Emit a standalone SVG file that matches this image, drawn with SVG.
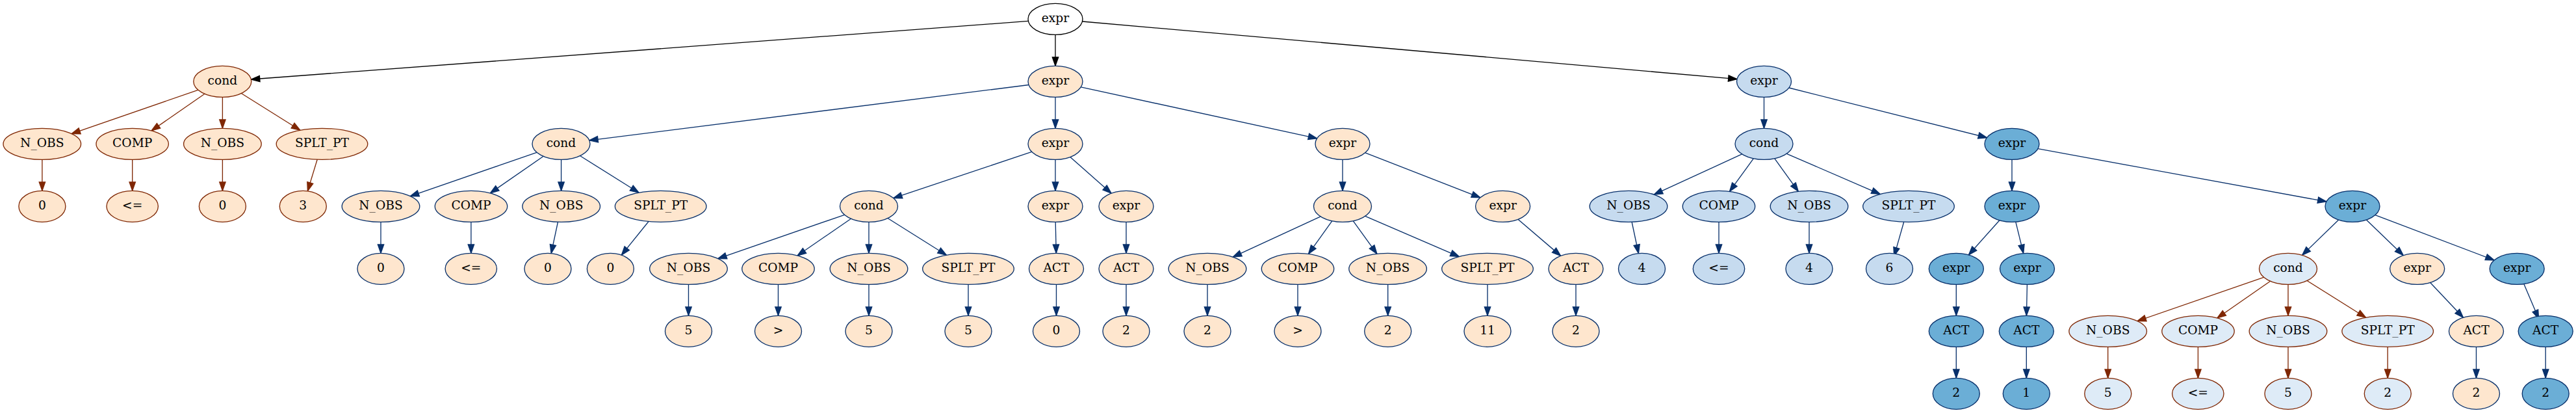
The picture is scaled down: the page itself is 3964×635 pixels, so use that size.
<svg xmlns="http://www.w3.org/2000/svg" width="3964" height="635" viewBox="0 0 3964 635">
<style>
text{font-family:"DejaVu Serif","Liberation Serif",serif;font-size:18.67px;text-anchor:middle;fill:#000}
ellipse{stroke-width:1.33}
.w ellipse{fill:#ffffff;stroke:#000000}
.ob ellipse{fill:#fee6ce;stroke:#7f2704}
.on ellipse{fill:#fee6ce;stroke:#08306b}
.lb ellipse{fill:#c6dbef;stroke:#08306b}
.db ellipse{fill:#6baed6;stroke:#08306b}
.vb ellipse{fill:#deebf7;stroke:#7f2704}
#edges line{stroke-width:1.33;fill:none}
.ek{stroke:#000000;marker-end:url(#ak)}
.eb{stroke:#7f2704;marker-end:url(#ab)}
.en{stroke:#08306b;marker-end:url(#an)}
</style>
<defs>
<marker id="ak" markerUnits="userSpaceOnUse" markerWidth="15" markerHeight="11" refX="13.33" refY="4.67" orient="auto" overflow="visible"><path d="M0,0 L13.33,4.67 L0,9.33 Z" fill="#000000" stroke="#000000" stroke-width="1.33"/></marker>
<marker id="ab" markerUnits="userSpaceOnUse" markerWidth="15" markerHeight="11" refX="13.33" refY="4.67" orient="auto" overflow="visible"><path d="M0,0 L13.33,4.67 L0,9.33 Z" fill="#7f2704" stroke="#7f2704" stroke-width="1.33"/></marker>
<marker id="an" markerUnits="userSpaceOnUse" markerWidth="15" markerHeight="11" refX="13.33" refY="4.67" orient="auto" overflow="visible"><path d="M0,0 L13.33,4.67 L0,9.33 Z" fill="#08306b" stroke="#08306b" stroke-width="1.33"/></marker>
</defs>
<rect width="3964" height="635" fill="#ffffff"/>
<g id="edges">
<line class="ek" x1="1582.4" y1="32.45" x2="386.4" y2="122.03"/>
<line class="ek" x1="1624" y1="53.33" x2="1624" y2="101.33"/>
<line class="ek" x1="1665.5" y1="32.98" x2="2673.0" y2="121.68"/>
<line class="eb" x1="304.8" y1="138.29" x2="110.1" y2="205.66"/>
<line class="eb" x1="315.0" y1="144.27" x2="233.1" y2="200.95"/>
<line class="eb" x1="342.4" y1="149.33" x2="342.4" y2="197.33"/>
<line class="eb" x1="371.3" y1="143.52" x2="461.9" y2="200.26"/>
<line class="eb" x1="64.9" y1="245.33" x2="64.9" y2="293.33"/>
<line class="eb" x1="203.7" y1="245.33" x2="203.7" y2="293.33"/>
<line class="eb" x1="342.4" y1="245.33" x2="342.4" y2="293.33"/>
<line class="eb" x1="488.2" y1="245.2" x2="473.4" y2="293.81"/>
<line class="en" x1="1583.0" y1="130.51" x2="906.8" y2="215.86"/>
<line class="en" x1="1624" y1="149.33" x2="1624" y2="197.33"/>
<line class="en" x1="1663.3" y1="133.86" x2="2026.7" y2="212.8"/>
<line class="en" x1="826.05" y1="234.29" x2="631.3" y2="301.66"/>
<line class="en" x1="836.2" y1="240.27" x2="754.4" y2="296.95"/>
<line class="en" x1="863.6" y1="245.33" x2="863.6" y2="293.33"/>
<line class="en" x1="892.5" y1="239.52" x2="983.1" y2="296.26"/>
<line class="en" x1="586" y1="341.33" x2="586" y2="389.33"/>
<line class="en" x1="724.9" y1="341.33" x2="724.9" y2="389.33"/>
<line class="en" x1="858.5" y1="341.24" x2="848.2" y2="389.58"/>
<line class="en" x1="998.1" y1="340.47" x2="956.4" y2="392.18"/>
<line class="en" x1="1587.8" y1="233.45" x2="1374.8" y2="304.68"/>
<line class="en" x1="1624" y1="245.33" x2="1624" y2="293.33"/>
<line class="en" x1="1646.9" y1="241.46" x2="1710.1" y2="297.2"/>
<line class="en" x1="1299.55" y1="330.29" x2="1104.8" y2="397.66"/>
<line class="en" x1="1309.55" y1="336.22" x2="1227.06" y2="392.99"/>
<line class="en" x1="1337" y1="341.33" x2="1337" y2="389.33"/>
<line class="en" x1="1366.0" y1="335.52" x2="1456.4" y2="392.26"/>
<line class="en" x1="1059.5" y1="437.33" x2="1059.5" y2="485.33"/>
<line class="en" x1="1197.5" y1="437.33" x2="1197.5" y2="485.33"/>
<line class="en" x1="1337" y1="437.33" x2="1337" y2="485.33"/>
<line class="en" x1="1490" y1="437.33" x2="1490" y2="485.33"/>
<line class="en" x1="1624.2" y1="341.33" x2="1625.3" y2="389.33"/>
<line class="en" x1="1625.5" y1="437.33" x2="1625.5" y2="485.33"/>
<line class="en" x1="1733" y1="341.33" x2="1733" y2="389.33"/>
<line class="en" x1="1733" y1="437.33" x2="1733" y2="485.33"/>
<line class="en" x1="2066" y1="245.33" x2="2066" y2="293.33"/>
<line class="en" x1="2100.7" y1="234.84" x2="2277.9" y2="303.82"/>
<line class="en" x1="2032.2" y1="332.93" x2="1897.2" y2="395.22"/>
<line class="en" x1="2049.9" y1="339.71" x2="2013.5" y2="390.4"/>
<line class="en" x1="2082.2" y1="339.68" x2="2118.9" y2="390.29"/>
<line class="en" x1="2100.8" y1="332.3" x2="2245.3" y2="394.53"/>
<line class="en" x1="1858" y1="437.33" x2="1858" y2="485.33"/>
<line class="en" x1="1997" y1="437.33" x2="1997" y2="485.33"/>
<line class="en" x1="2135.7" y1="437.33" x2="2135.7" y2="485.33"/>
<line class="en" x1="2289" y1="437.33" x2="2289" y2="485.33"/>
<line class="en" x1="2336.0" y1="337.28" x2="2401.65" y2="393.38"/>
<line class="en" x1="2425" y1="437.33" x2="2425" y2="485.33"/>
<line class="en" x1="2714.5" y1="149.33" x2="2714.5" y2="197.33"/>
<line class="en" x1="2752.9" y1="135.0" x2="3057.6" y2="211.66"/>
<line class="en" x1="2680.7" y1="236.93" x2="2545.2" y2="299.22"/>
<line class="en" x1="2698.4" y1="243.71" x2="2661.5" y2="294.4"/>
<line class="en" x1="2730.7" y1="243.68" x2="2767.3" y2="294.29"/>
<line class="en" x1="2749.3" y1="236.3" x2="2893.3" y2="298.53"/>
<line class="en" x1="2511.1" y1="341.24" x2="2521.4" y2="389.57"/>
<line class="en" x1="2645" y1="341.33" x2="2645" y2="389.33"/>
<line class="en" x1="2784" y1="341.33" x2="2784" y2="389.33"/>
<line class="en" x1="2929.7" y1="341.2" x2="2914.7" y2="393.81"/>
<line class="en" x1="3096" y1="245.33" x2="3096" y2="293.33"/>
<line class="en" x1="3136.0" y1="228.66" x2="3580.0" y2="310.0"/>
<line class="en" x1="3076.9" y1="338.71" x2="3029.4" y2="391.95"/>
<line class="en" x1="3101.8" y1="341.1" x2="3113.7" y2="389.56"/>
<line class="en" x1="3010.3" y1="437.33" x2="3010.3" y2="485.33"/>
<line class="en" x1="3010.3" y1="533.33" x2="3010.3" y2="581.33"/>
<line class="en" x1="3119.4" y1="437.33" x2="3118.4" y2="485.33"/>
<line class="en" x1="3118.3" y1="533.33" x2="3118.3" y2="581.33"/>
<line class="en" x1="3598.7" y1="338.01" x2="3542.6" y2="392.36"/>
<line class="en" x1="3641.4" y1="337.97" x2="3698.3" y2="392.69"/>
<line class="en" x1="3655.0" y1="330.6" x2="3838.2" y2="400.06"/>
<line class="en" x1="3739.7" y1="434.44" x2="3790.5" y2="488.22"/>
<line class="en" x1="3810.5" y1="533.33" x2="3810.5" y2="581.33"/>
<line class="en" x1="3883.8" y1="436.55" x2="3906.6" y2="490.11"/>
<line class="en" x1="3917.2" y1="533.33" x2="3917.2" y2="581.33"/>
<line class="eb" x1="3483.55" y1="426.29" x2="3289.0" y2="493.66"/>
<line class="eb" x1="3493.66" y1="432.27" x2="3411.92" y2="488.95"/>
<line class="eb" x1="3521" y1="437.33" x2="3521" y2="485.33"/>
<line class="eb" x1="3550.03" y1="431.52" x2="3640.57" y2="488.26"/>
<line class="eb" x1="3243.7" y1="533.33" x2="3243.7" y2="581.33"/>
<line class="eb" x1="3382.4" y1="533.33" x2="3382.4" y2="581.33"/>
<line class="eb" x1="3521" y1="533.33" x2="3521" y2="581.33"/>
<line class="eb" x1="3674.2" y1="533.33" x2="3674.2" y2="581.33"/>
</g>
<g id="n0" class="w"><ellipse cx="1624" cy="29.33" rx="42" ry="24"/><text x="1624" y="34.33">expr</text></g>
<g id="a1" class="ob"><ellipse cx="342.3" cy="125.33" rx="44.5" ry="24"/><text x="342.3" y="130.33">cond</text></g>
<g id="a2" class="ob"><ellipse cx="64.8" cy="221.33" rx="59.8" ry="24"/><text x="64.8" y="226.33">N_OBS</text></g>
<g id="a3" class="ob"><ellipse cx="203.7" cy="221.33" rx="55.7" ry="24"/><text x="203.7" y="226.33">COMP</text></g>
<g id="a4" class="ob"><ellipse cx="342.4" cy="221.33" rx="59.8" ry="24"/><text x="342.4" y="226.33">N_OBS</text></g>
<g id="a5" class="ob"><ellipse cx="495.5" cy="221.33" rx="70.3" ry="24"/><text x="495.5" y="226.33">SPLT_PT</text></g>
<g id="a6" class="ob"><ellipse cx="64.9" cy="317.33" rx="36" ry="24"/><text x="64.9" y="322.33">0</text></g>
<g id="a7" class="ob"><ellipse cx="203.7" cy="317.33" rx="39.7" ry="24"/><text x="203.7" y="322.33">&lt;=</text></g>
<g id="a8" class="ob"><ellipse cx="342.4" cy="317.33" rx="36" ry="24"/><text x="342.4" y="322.33">0</text></g>
<g id="a9" class="ob"><ellipse cx="466.3" cy="317.33" rx="36" ry="24"/><text x="466.3" y="322.33">3</text></g>
<g id="b1" class="on"><ellipse cx="1624" cy="125.33" rx="42" ry="24"/><text x="1624" y="130.33">expr</text></g>
<g id="b2" class="on"><ellipse cx="863.5" cy="221.33" rx="44.5" ry="24"/><text x="863.5" y="226.33">cond</text></g>
<g id="b3" class="on"><ellipse cx="1624" cy="221.33" rx="42" ry="24"/><text x="1624" y="226.33">expr</text></g>
<g id="b4" class="on"><ellipse cx="2066" cy="221.33" rx="42" ry="24"/><text x="2066" y="226.33">expr</text></g>
<g id="b5" class="on"><ellipse cx="586" cy="317.33" rx="59.8" ry="24"/><text x="586" y="322.33">N_OBS</text></g>
<g id="b6" class="on"><ellipse cx="725" cy="317.33" rx="55.7" ry="24"/><text x="725" y="322.33">COMP</text></g>
<g id="b7" class="on"><ellipse cx="863.7" cy="317.33" rx="59.8" ry="24"/><text x="863.7" y="322.33">N_OBS</text></g>
<g id="b8" class="on"><ellipse cx="1016.7" cy="317.33" rx="70.3" ry="24"/><text x="1016.7" y="322.33">SPLT_PT</text></g>
<g id="b9" class="on"><ellipse cx="586" cy="413.33" rx="36" ry="24"/><text x="586" y="418.33">0</text></g>
<g id="b10" class="on"><ellipse cx="724.8" cy="413.33" rx="39.7" ry="24"/><text x="724.8" y="418.33">&lt;=</text></g>
<g id="b11" class="on"><ellipse cx="843" cy="413.33" rx="36" ry="24"/><text x="843" y="418.33">0</text></g>
<g id="b12" class="on"><ellipse cx="939.4" cy="413.33" rx="36" ry="24"/><text x="939.4" y="418.33">0</text></g>
<g id="b13" class="on"><ellipse cx="1337" cy="317.33" rx="44.5" ry="24"/><text x="1337" y="322.33">cond</text></g>
<g id="b14" class="on"><ellipse cx="1624" cy="317.33" rx="42" ry="24"/><text x="1624" y="322.33">expr</text></g>
<g id="b15" class="on"><ellipse cx="1733" cy="317.33" rx="42" ry="24"/><text x="1733" y="322.33">expr</text></g>
<g id="b16" class="on"><ellipse cx="1059.5" cy="413.33" rx="59.8" ry="24"/><text x="1059.5" y="418.33">N_OBS</text></g>
<g id="b17" class="on"><ellipse cx="1197.5" cy="413.33" rx="55.7" ry="24"/><text x="1197.5" y="418.33">COMP</text></g>
<g id="b18" class="on"><ellipse cx="1337" cy="413.33" rx="59.8" ry="24"/><text x="1337" y="418.33">N_OBS</text></g>
<g id="b19" class="on"><ellipse cx="1490" cy="413.33" rx="70.3" ry="24"/><text x="1490" y="418.33">SPLT_PT</text></g>
<g id="b20" class="on"><ellipse cx="1059.5" cy="509.33" rx="36" ry="24"/><text x="1059.5" y="514.33">5</text></g>
<g id="b21" class="on"><ellipse cx="1197.5" cy="509.33" rx="36" ry="24"/><text x="1197.5" y="514.33">&gt;</text></g>
<g id="b22" class="on"><ellipse cx="1337" cy="509.33" rx="36" ry="24"/><text x="1337" y="514.33">5</text></g>
<g id="b23" class="on"><ellipse cx="1490" cy="509.33" rx="36" ry="24"/><text x="1490" y="514.33">5</text></g>
<g id="b24" class="on"><ellipse cx="1625.5" cy="413.33" rx="42" ry="24"/><text x="1625.5" y="418.33">ACT</text></g>
<g id="b25" class="on"><ellipse cx="1625.5" cy="509.33" rx="36" ry="24"/><text x="1625.5" y="514.33">0</text></g>
<g id="b26" class="on"><ellipse cx="1733" cy="413.33" rx="42" ry="24"/><text x="1733" y="418.33">ACT</text></g>
<g id="b27" class="on"><ellipse cx="1733" cy="509.33" rx="36" ry="24"/><text x="1733" y="514.33">2</text></g>
<g id="b28" class="on"><ellipse cx="2066" cy="317.33" rx="44.5" ry="24"/><text x="2066" y="322.33">cond</text></g>
<g id="b29" class="on"><ellipse cx="2312.6" cy="317.33" rx="42" ry="24"/><text x="2312.6" y="322.33">expr</text></g>
<g id="b30" class="on"><ellipse cx="1858" cy="413.33" rx="59.8" ry="24"/><text x="1858" y="418.33">N_OBS</text></g>
<g id="b31" class="on"><ellipse cx="1997" cy="413.33" rx="55.7" ry="24"/><text x="1997" y="418.33">COMP</text></g>
<g id="b32" class="on"><ellipse cx="2135.6" cy="413.33" rx="59.8" ry="24"/><text x="2135.6" y="418.33">N_OBS</text></g>
<g id="b33" class="on"><ellipse cx="2289" cy="413.33" rx="70.3" ry="24"/><text x="2289" y="418.33">SPLT_PT</text></g>
<g id="b34" class="on"><ellipse cx="1858" cy="509.33" rx="36" ry="24"/><text x="1858" y="514.33">2</text></g>
<g id="b35" class="on"><ellipse cx="1997" cy="509.33" rx="36" ry="24"/><text x="1997" y="514.33">&gt;</text></g>
<g id="b36" class="on"><ellipse cx="2135.7" cy="509.33" rx="36" ry="24"/><text x="2135.7" y="514.33">2</text></g>
<g id="b37" class="on"><ellipse cx="2289" cy="509.33" rx="36" ry="24"/><text x="2289" y="514.33">11</text></g>
<g id="b38" class="on"><ellipse cx="2425" cy="413.33" rx="42" ry="24"/><text x="2425" y="418.33">ACT</text></g>
<g id="b39" class="on"><ellipse cx="2425" cy="509.33" rx="36" ry="24"/><text x="2425" y="514.33">2</text></g>
<g id="c1" class="lb"><ellipse cx="2714.5" cy="125.33" rx="42" ry="24"/><text x="2714.5" y="130.33">expr</text></g>
<g id="c2" class="lb"><ellipse cx="2714.5" cy="221.33" rx="44.5" ry="24"/><text x="2714.5" y="226.33">cond</text></g>
<g id="c3" class="db"><ellipse cx="3096" cy="221.33" rx="42" ry="24"/><text x="3096" y="226.33">expr</text></g>
<g id="c4" class="lb"><ellipse cx="2506" cy="317.33" rx="59.8" ry="24"/><text x="2506" y="322.33">N_OBS</text></g>
<g id="c5" class="lb"><ellipse cx="2645" cy="317.33" rx="55.7" ry="24"/><text x="2645" y="322.33">COMP</text></g>
<g id="c6" class="lb"><ellipse cx="2784" cy="317.33" rx="59.8" ry="24"/><text x="2784" y="322.33">N_OBS</text></g>
<g id="c7" class="lb"><ellipse cx="2937" cy="317.33" rx="70.3" ry="24"/><text x="2937" y="322.33">SPLT_PT</text></g>
<g id="c8" class="lb"><ellipse cx="2526.5" cy="413.33" rx="36" ry="24"/><text x="2526.5" y="418.33">4</text></g>
<g id="c9" class="lb"><ellipse cx="2645" cy="413.33" rx="39.7" ry="24"/><text x="2645" y="418.33">&lt;=</text></g>
<g id="c10" class="lb"><ellipse cx="2784" cy="413.33" rx="36" ry="24"/><text x="2784" y="418.33">4</text></g>
<g id="c11" class="lb"><ellipse cx="2907.5" cy="413.33" rx="36" ry="24"/><text x="2907.5" y="418.33">6</text></g>
<g id="c12" class="db"><ellipse cx="3096" cy="317.33" rx="42" ry="24"/><text x="3096" y="322.33">expr</text></g>
<g id="c13" class="db"><ellipse cx="3620" cy="317.33" rx="42" ry="24"/><text x="3620" y="322.33">expr</text></g>
<g id="c14" class="db"><ellipse cx="3010.3" cy="413.33" rx="42" ry="24"/><text x="3010.3" y="418.33">expr</text></g>
<g id="c15" class="db"><ellipse cx="3119.5" cy="413.33" rx="42" ry="24"/><text x="3119.5" y="418.33">expr</text></g>
<g id="c16" class="db"><ellipse cx="3010.3" cy="509.33" rx="42" ry="24"/><text x="3010.3" y="514.33">ACT</text></g>
<g id="c17" class="db"><ellipse cx="3118.3" cy="509.33" rx="42" ry="24"/><text x="3118.3" y="514.33">ACT</text></g>
<g id="c18" class="db"><ellipse cx="3010.3" cy="605.33" rx="36" ry="24"/><text x="3010.3" y="610.33">2</text></g>
<g id="c19" class="db"><ellipse cx="3118.3" cy="605.33" rx="36" ry="24"/><text x="3118.3" y="610.33">1</text></g>
<g id="c20" class="vb"><ellipse cx="3521" cy="413.33" rx="44.5" ry="24"/><text x="3521" y="418.33">cond</text></g>
<g id="c21" class="on"><ellipse cx="3719.7" cy="413.33" rx="42" ry="24"/><text x="3719.7" y="418.33">expr</text></g>
<g id="c22" class="db"><ellipse cx="3873.2" cy="413.33" rx="42" ry="24"/><text x="3873.2" y="418.33">expr</text></g>
<g id="c23" class="vb"><ellipse cx="3243.7" cy="509.33" rx="59.8" ry="24"/><text x="3243.7" y="514.33">N_OBS</text></g>
<g id="c24" class="vb"><ellipse cx="3382.5" cy="509.33" rx="55.7" ry="24"/><text x="3382.5" y="514.33">COMP</text></g>
<g id="c25" class="vb"><ellipse cx="3521" cy="509.33" rx="59.8" ry="24"/><text x="3521" y="514.33">N_OBS</text></g>
<g id="c26" class="vb"><ellipse cx="3674.2" cy="509.33" rx="70.3" ry="24"/><text x="3674.2" y="514.33">SPLT_PT</text></g>
<g id="c27" class="vb"><ellipse cx="3243.8" cy="605.33" rx="36" ry="24"/><text x="3243.8" y="610.33">5</text></g>
<g id="c28" class="vb"><ellipse cx="3382.3" cy="605.33" rx="39.7" ry="24"/><text x="3382.3" y="610.33">&lt;=</text></g>
<g id="c29" class="vb"><ellipse cx="3521" cy="605.33" rx="36" ry="24"/><text x="3521" y="610.33">5</text></g>
<g id="c30" class="vb"><ellipse cx="3674.3" cy="605.33" rx="36" ry="24"/><text x="3674.3" y="610.33">2</text></g>
<g id="c31" class="on"><ellipse cx="3810.5" cy="509.33" rx="42" ry="24"/><text x="3810.5" y="514.33">ACT</text></g>
<g id="c32" class="on"><ellipse cx="3810.5" cy="605.33" rx="36" ry="24"/><text x="3810.5" y="610.33">2</text></g>
<g id="c33" class="db"><ellipse cx="3917.2" cy="509.33" rx="42" ry="24"/><text x="3917.2" y="514.33">ACT</text></g>
<g id="c34" class="db"><ellipse cx="3917.2" cy="605.33" rx="36" ry="24"/><text x="3917.2" y="610.33">2</text></g>
</svg>
